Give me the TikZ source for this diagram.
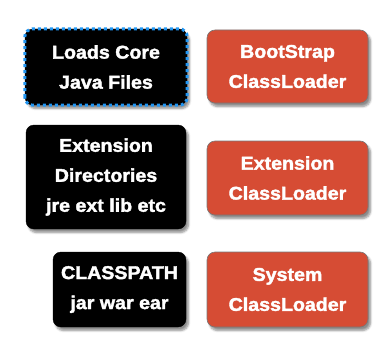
\documentclass[tikz,border=0pt]{standalone}
\usepackage{fontspec}
\setmainfont{Liberation Sans}[FakeStretch=1.06, BoldFeatures={FakeBold=2}]
\usetikzlibrary{shadows.blur}
\definecolor{loaderred}{RGB}{214,76,52}
\definecolor{loaderedge}{RGB}{120,120,120}
\definecolor{dotblue}{RGB}{33,150,243}
\tikzset{
  box/.style={rounded corners=8pt, align=center, text=white,
    font=\fontsize{18.5}{30}\selectfont\bfseries, inner sep=0pt,
    blur shadow={shadow xshift=2.5pt, shadow yshift=-3.5pt, shadow blur steps=6, shadow opacity=45}},
  srcbox/.style={box, fill=black, draw=black},
  loaderbox/.style={box, fill=loaderred, draw=loaderedge, line width=0.6pt,
    minimum width=161pt, minimum height=74pt},
  dotframe/.style={draw=dotblue, line width=3pt, rounded corners=8pt,
    dash pattern=on 3pt off 3pt}
}
\begin{document}
\begin{tikzpicture}[x=1pt,y=1pt]
\useasboundingbox (0,0) rectangle (377,-353);
% source locations
\node[srcbox, minimum width=162pt, minimum height=76pt] (core) at (106,-67) {Loads Core\\Java Files};
\draw[dotframe] (core.south west) rectangle (core.north east);
\node[srcbox, minimum width=160pt, minimum height=104pt] (ext) at (106,-177) {Extension\\Directories\\jre ext lib etc};
\node[srcbox, minimum width=133pt, minimum height=75pt] (cp) at (119.5,-289.5) {CLASSPATH\\jar war ear};
% class loaders
\node[loaderbox, minimum height=73pt] (boot) at (287.5,-66.5) {BootStrap\\ClassLoader};
\node[loaderbox] (extl) at (287.5,-178) {Extension\\ClassLoader};
\node[loaderbox, minimum height=75pt] (sys) at (287.5,-289.5) {System\\ClassLoader};
\end{tikzpicture}
\end{document}
